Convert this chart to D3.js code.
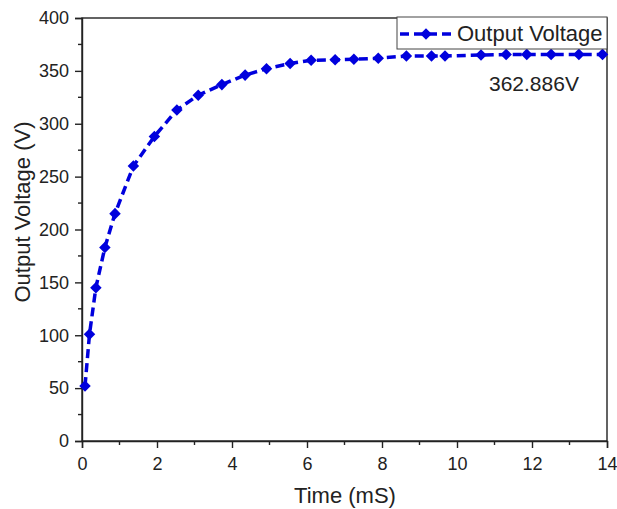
<!DOCTYPE html>
<html>
<head>
<meta charset="utf-8">
<script src="https://cdn.jsdelivr.net/npm/d3@7/dist/d3.min.js"></script>
<style>
  html, body { margin: 0; padding: 0; background: #fff; }
  svg { display: block; font-family: "Liberation Sans", Arial, sans-serif; }
</style>
</head>
<body>
<svg id="chart" width="617" height="509"></svg>
<script>
// Charging curve of the converter output
const timeMs = [0.08, 0.2, 0.37, 0.61, 0.88, 1.37, 1.93, 2.53, 3.10, 3.73, 4.35, 4.92, 5.55,
                6.11, 6.75, 7.25, 7.90, 8.65, 9.32, 9.68, 10.64, 11.31, 11.86, 12.51, 13.25, 13.88];
const voltage = [52, 101, 145, 183, 215, 260, 288, 313, 327, 337, 346, 352, 357,
                 360, 360.5, 361, 362, 364, 364, 364, 365, 365.5, 365.6, 365.6, 365.6, 365.6];
const xTicks = [0, 2, 4, 6, 8, 10, 12, 14];
const yTicks = [0, 50, 100, 150, 200, 250, 300, 350, 400];
const seriesName = "Output Voltage";
const steadyLabel = "362.886V";

const svg = d3.select("#chart");
const m = { left: 82, right: 607, top: 18, bottom: 441 };
const blue = "#0000dd";
const ink = "#222";
const font = "'Liberation Sans', Arial, sans-serif";

const x = d3.scaleLinear().domain([0, 14]).range([m.left, m.right]);
const y = d3.scaleLinear().domain([0, 400]).range([m.bottom, m.top]);

// Frame
svg.append("rect")
  .attr("x", m.left).attr("y", m.top)
  .attr("width", m.right - m.left).attr("height", m.bottom - m.top)
  .attr("fill", "none").attr("stroke", ink).attr("stroke-width", 1.4);

// Minor ticks
const xMinor = d3.range(1, 14, 2);
const yMinor = d3.range(25, 400, 50);

const gx = svg.append("g").attr("transform", `translate(0,${m.bottom})`);
gx.call(d3.axisBottom(x).tickValues(xTicks).tickSize(7).tickPadding(9).tickFormat(d3.format("d")));
gx.selectAll(".minor").data(xMinor).enter().append("line")
  .attr("x1", d => x(d)).attr("x2", d => x(d)).attr("y1", 0).attr("y2", 4)
  .attr("stroke", ink).attr("stroke-width", 1.4);

const gy = svg.append("g").attr("transform", `translate(${m.left},0)`);
gy.call(d3.axisLeft(y).tickValues(yTicks).tickSize(7).tickPadding(6).tickFormat(d3.format("d")));
gy.selectAll(".minor").data(yMinor).enter().append("line")
  .attr("x1", 0).attr("x2", -4).attr("y1", d => y(d)).attr("y2", d => y(d))
  .attr("stroke", ink).attr("stroke-width", 1.4);

[gx, gy].forEach(g => {
  g.attr("font-size", null).attr("font-family", null);
  g.select(".domain").attr("stroke", ink).attr("stroke-width", 1.4);
  g.selectAll(".tick line").attr("stroke", ink).attr("stroke-width", 1.4);
  g.selectAll(".tick text").attr("fill", ink)
    .style("font-size", "18px").style("font-family", font);
});

// Axis titles
svg.append("text")
  .attr("x", 345).attr("y", 503)
  .attr("text-anchor", "middle").attr("fill", ink)
  .style("font-size", "22px").style("font-family", font).text("Time (mS)");
svg.append("text")
  .attr("transform", "translate(30,212) rotate(-90)")
  .attr("text-anchor", "middle").attr("fill", ink)
  .style("font-size", "22px").style("font-family", font).text("Output Voltage (V)");

// Series
const pts = timeMs.map((t, i) => [t, voltage[i]]);
const plot = svg.append("g");
plot.append("path")
  .datum(pts)
  .attr("d", d3.line().x(d => x(d[0])).y(d => y(d[1])))
  .attr("fill", "none").attr("stroke", blue).attr("stroke-width", 3.5)
  .attr("stroke-dasharray", "9,5");
const diamond = d3.symbol().type(d3.symbolDiamond2).size(85);
plot.selectAll(".pt").data(pts).enter().append("path")
  .attr("d", diamond)
  .attr("transform", d => `translate(${x(d[0])},${y(d[1])})`)
  .attr("fill", blue);

// Legend
const lg = svg.append("g");
lg.append("rect")
  .attr("x", 397).attr("y", 17).attr("width", m.right - 397).attr("height", 32)
  .attr("fill", "#fff").attr("stroke", "#444").attr("stroke-width", 1);
lg.append("line")
  .attr("x1", 400).attr("x2", 452).attr("y1", 34).attr("y2", 34)
  .attr("stroke", blue).attr("stroke-width", 3.5).attr("stroke-dasharray", "9,5");
lg.append("path").attr("d", diamond).attr("transform", "translate(426,34)").attr("fill", blue);
lg.append("text")
  .attr("x", 457).attr("y", 41).attr("fill", ink)
  .style("font-size", "22px").style("font-family", font).text(seriesName);

// Steady-state annotation
svg.append("text")
  .attr("x", 489).attr("y", 91).attr("fill", ink)
  .style("font-size", "21px").style("font-family", font).text(steadyLabel);
</script>
</body>
</html>
